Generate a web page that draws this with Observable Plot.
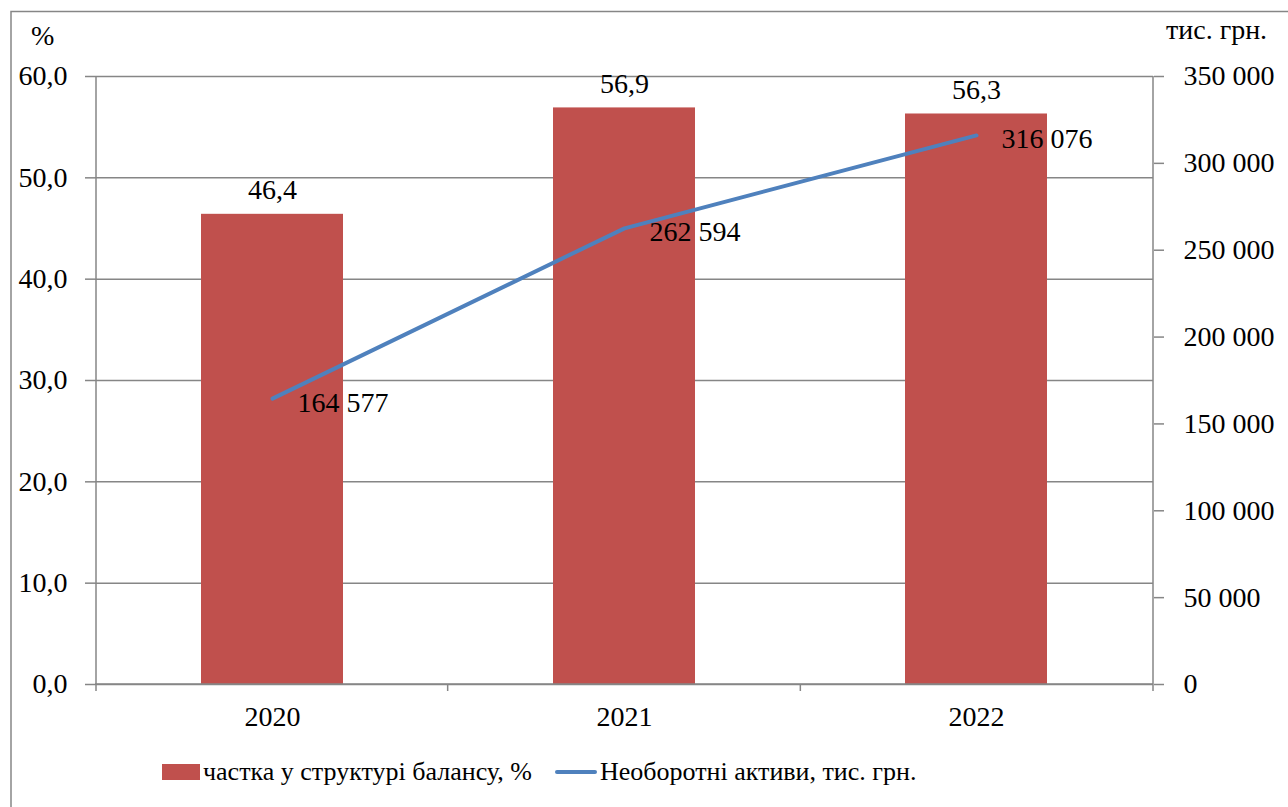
<!DOCTYPE html>
<html>
<head>
<meta charset="utf-8">
<script src="https://cdn.jsdelivr.net/npm/d3@7"></script>
<script src="https://cdn.jsdelivr.net/npm/@observablehq/plot@0.6"></script>
<style>
  html, body { margin: 0; padding: 0; background: #fff; }
  body { font-family: 'Liberation Serif', serif; }
  #wrap { position: relative; width: 1288px; height: 807px; }
  .lbl { position: absolute; font-size: 28px; color: #000; white-space: nowrap; }
  .legend { position: absolute; top: 757px; font-size: 26px; display: flex; align-items: center; white-space: nowrap; color: #000; }
  .sw-bar { width: 38px; height: 16px; background: #C0504D; margin-right: 3px; }
  .sw-line { width: 42px; height: 4px; border-radius: 2px; background: #4F81BD; margin-right: 3px; }
</style>
</head>
<body>
<div id="wrap">
<div id="chart"></div>
<div class="lbl" style="left:31px; top:20px;">%</div>
<div class="lbl" style="left:1166px; top:14px;">тис. грн.</div>
<div class="legend" style="left:162px;"><div class="sw-bar"></div>частка у структурі балансу, %</div>
<div class="legend" style="left:555px;"><div class="sw-line"></div>Необоротні активи, тис. грн.</div>
</div>
<script>
const years = ["2020", "2021", "2022"];
const shares = [46.4, 56.9, 56.3];               // частка у структурі балансу, %
const assets = [164577, 262594, 316076];         // Необоротні активи, тис. грн.
const leftTicks = [0, 10, 20, 30, 40, 50, 60];
const rightTicks = [0, 50000, 100000, 150000, 200000, 250000, 300000, 350000];
const leftMax = 60, rightMax = 350000;

const loc = d3.formatLocale({decimal: ",", thousands: " ", grouping: [3], currency: ["", ""]});
const fmt1 = loc.format(".1f");
const fmtInt = loc.format(",d");

const toLeft = v => v * leftMax / rightMax;
const data = years.map((y, i) => ({year: y, share: shares[i], assets: assets[i], assetsScaled: toLeft(assets[i])}));

const gray = "#868686";
const fs = 28;

const chart = Plot.plot({
  width: 1288,
  height: 807,
  marginLeft: 95,
  marginRight: 135,
  marginTop: 76,
  marginBottom: 123,
  style: {fontFamily: "'Liberation Serif', serif", fontSize: "28px", color: "#000"},
  x: {domain: years, paddingInner: 0.597, paddingOuter: 0.2985, align: 0.5, label: null},
  y: {domain: [0, leftMax], label: null},
  marks: [
    Plot.gridY(leftTicks, {stroke: gray, strokeOpacity: 1, strokeWidth: 1.5}),
    Plot.barY(data, {x: "year", y: "share", fill: "#C0504D"}),
    Plot.axisY(leftTicks, {anchor: "left", tickSize: 10, tickPadding: 18, stroke: gray, strokeWidth: 1.5,
      tickFormat: d => fmt1(d), fill: "#000", fontSize: fs, label: null}),
    Plot.axisY(rightTicks.map(toLeft), {anchor: "right", tickSize: 10, tickPadding: 20, stroke: gray, strokeWidth: 1.5,
      tickFormat: d => fmtInt(Math.round(d * rightMax / leftMax)), fill: "#000", fontSize: fs, label: null}),
    Plot.axisX({anchor: "bottom", tickSize: 0, tickPadding: 22, fill: "#000", fontSize: fs, label: null}),
    Plot.lineY(data, {x: "year", y: "assetsScaled", stroke: "#4F81BD", strokeWidth: 4, strokeLinecap: "round"}),
    Plot.text(data, {x: "year", y: "share", text: d => fmt1(d.share), dy: -24, fontSize: fs, fill: "#000"}),
    Plot.text(data, {x: "year", y: "assetsScaled", text: d => fmtInt(d.assets), dx: 25, dy: 4, textAnchor: "start", fontSize: fs, fill: "#000"})
  ]
});

// outer frame, axis lines and category boundary ticks, positioned from Plot's scales
const svg = d3.select(chart);
const ys = chart.scale("y");
const xLeft = 95, xRight = 1288 - 135, yTop = ys.apply(leftMax), yBot = ys.apply(0);
const g = svg.append("g").attr("stroke", gray).attr("stroke-width", 1.5).attr("fill", "none");
g.append("path").attr("d", "M11,807V11.5H1288");
g.append("line").attr("x1", xLeft + 1).attr("x2", xLeft + 1).attr("y1", yTop).attr("y2", yBot + 7);
g.append("line").attr("x1", xRight).attr("x2", xRight).attr("y1", yTop).attr("y2", yBot + 7);
g.append("line").attr("x1", xLeft).attr("x2", xRight).attr("y1", yBot).attr("y2", yBot);
const step = (xRight - xLeft) / years.length;
for (let i = 1; i < years.length; i++) {
  g.append("line").attr("x1", xLeft + step * i).attr("x2", xLeft + step * i).attr("y1", yBot).attr("y2", yBot + 7);
}
document.getElementById("chart").appendChild(chart);
</script>
</body>
</html>
